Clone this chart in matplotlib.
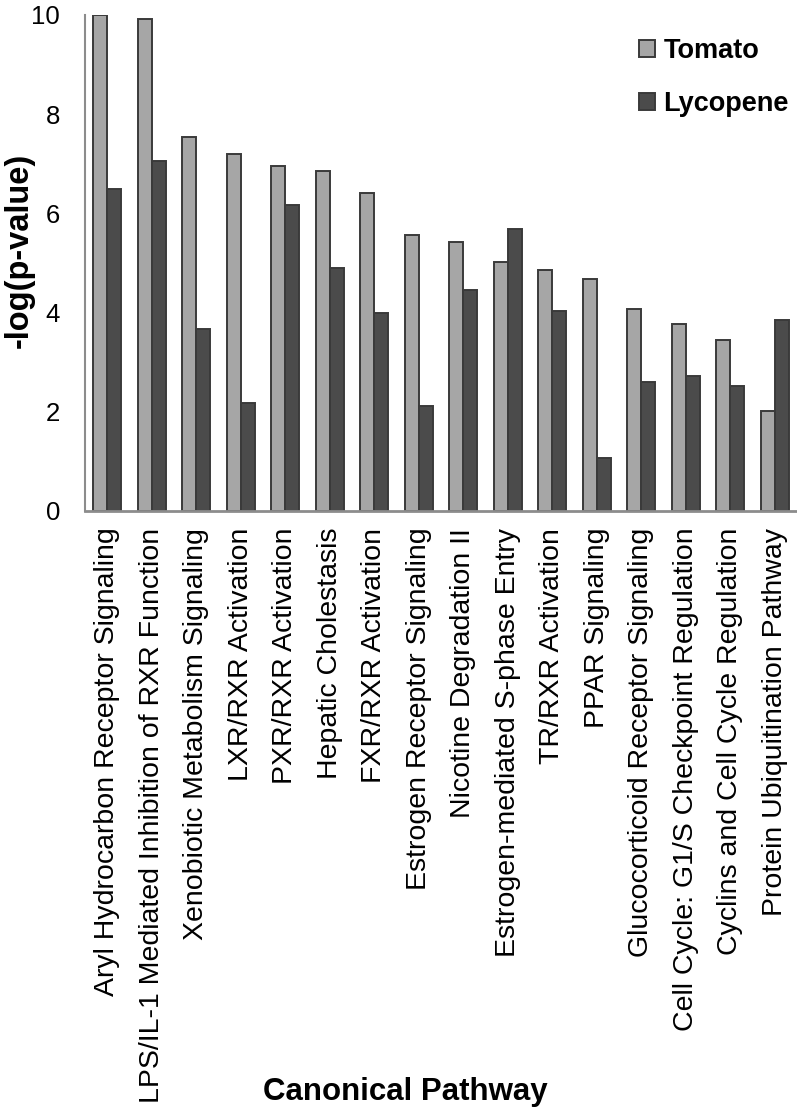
import numpy as np
import matplotlib
matplotlib.use('Agg')
import matplotlib.pyplot as plt
from matplotlib.patches import Patch

plt.rcParams['font.family'] = ['Liberation Sans', 'DejaVu Sans']

pathways = ['Aryl Hydrocarbon Receptor Signaling',
            'LPS/IL-1 Mediated Inhibition of RXR Function',
            'Xenobiotic Metabolism Signaling',
            'LXR/RXR Activation',
            'PXR/RXR Activation',
            'Hepatic Cholestasis',
            'FXR/RXR Activation',
            'Estrogen Receptor Signaling',
            'Nicotine Degradation II',
            'Estrogen-mediated S-phase Entry',
            'TR/RXR Activation',
            'PPAR Signaling',
            'Glucocorticoid Receptor Signaling',
            'Cell Cycle: G1/S Checkpoint Regulation',
            'Cyclins and Cell Cycle Regulation',
            'Protein Ubiquitination Pathway']
tomato = [10.0, 9.92, 7.54, 7.2, 6.96, 6.85, 6.41, 5.56, 5.42, 5.03, 4.85, 4.67, 4.07, 3.78, 3.45, 2.02]
lycopene = [6.5, 7.05, 3.67, 2.17, 6.16, 4.89, 4.0, 2.12, 4.46, 5.69, 4.03, 1.06, 2.61, 2.73, 2.52, 3.86]

c_tom = '#a6a6a6'
c_lyc = '#4b4b4b'
edge = '#3a3a3a'

fig = plt.figure(figsize=(7.97, 11.10), dpi=100)
ax = fig.add_axes([85/797, 1 - 511/1110, 712/797, 496/1110])

x = np.arange(len(pathways))
w = 0.315
ax.bar(x - w/2, tomato, w, color=c_tom, edgecolor=edge, linewidth=1.4, label='Tomato')
ax.bar(x + w/2, lycopene, w, color=c_lyc, edgecolor=edge, linewidth=1.4, label='Lycopene')

ax.set_xlim(-0.5, len(pathways) - 0.5)
ax.set_ylim(0, 10)
ax.set_yticks([0, 2, 4, 6, 8, 10])
ax.set_xticks(x)
ax.set_xticklabels(pathways, rotation=90, fontsize=20.5)
ax.tick_params(axis='y', length=0, pad=18, labelsize=18.5)
ax.tick_params(axis='x', length=0, pad=12)

for s in ['top', 'right']:
    ax.spines[s].set_visible(False)
ax.spines['left'].set_color('#8c8c8c')
ax.spines['left'].set_linewidth(1.5)
ax.spines['bottom'].set_color('#8c8c8c')
ax.spines['bottom'].set_linewidth(2)

fig.text(19/797, 1 - 250/1110, '-log(p-value)', rotation=90, ha='center', va='center',
         fontsize=23.5, fontweight='bold')
fig.text(405/797, 1 - 1092/1110, 'Canonical Pathway', ha='center', va='center',
         fontsize=22.5, fontweight='bold')

handles = [Patch(facecolor=c_tom, edgecolor=edge, linewidth=1.4),
           Patch(facecolor=c_lyc, edgecolor=edge, linewidth=1.4)]
fig.legend(handles, ['Tomato', 'Lycopene'], loc='upper left',
           bbox_to_anchor=(639/797, 1 - 38/1110), frameon=False,
           prop={'size': 19.5, 'weight': 'bold'}, handlelength=0.6, handleheight=0.6,
           handletextpad=0.3, labelspacing=1.0, borderpad=0, borderaxespad=0)

plt.savefig('out.png', dpi=100)
